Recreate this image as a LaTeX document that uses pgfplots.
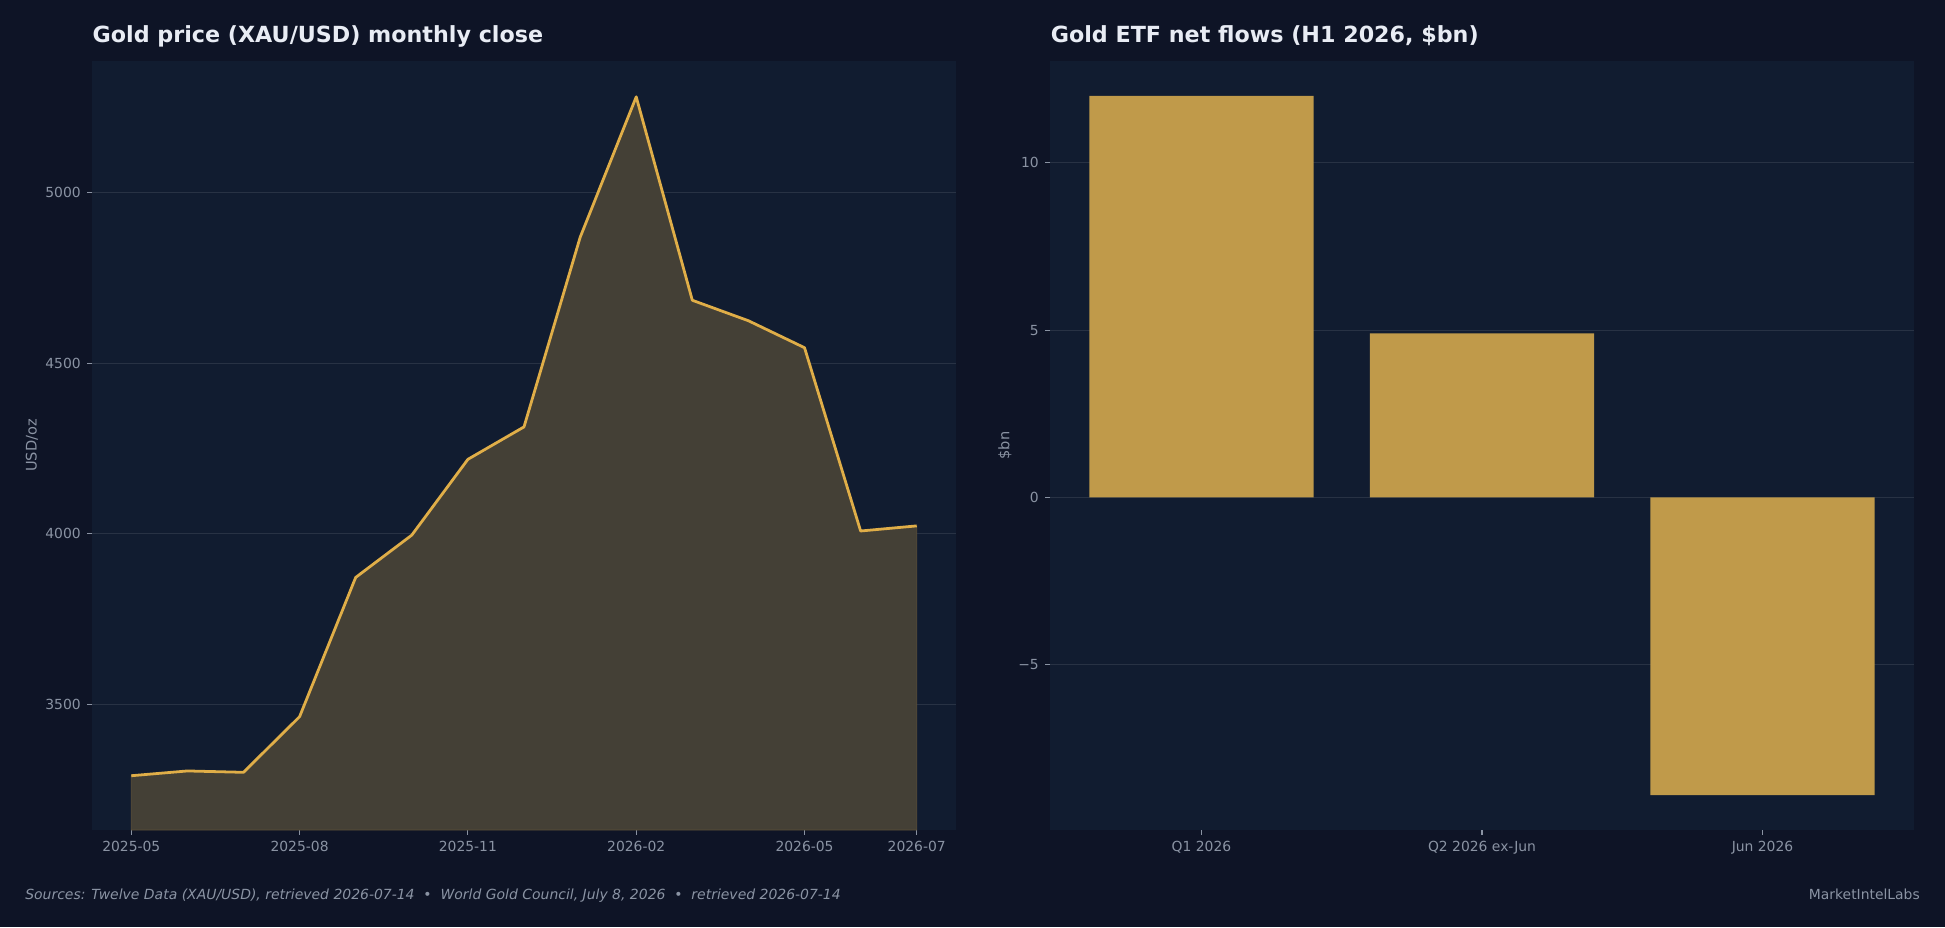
\documentclass[border=0pt]{standalone}
\usepackage{fontspec}
\setmainfont{DejaVu Sans}
\usepackage{pgfplots}
\pgfplotsset{compat=1.18}
\definecolor{figbg}{RGB}{14,20,38}
\definecolor{axbg}{RGB}{17,28,48}
\definecolor{gridc}{RGB}{40,50,68}
\definecolor{tickc}{RGB}{138,147,163}
\definecolor{titlec}{RGB}{232,236,244}
\definecolor{gold}{RGB}{224,174,72}
\definecolor{goldfill}{RGB}{68,64,54}
\definecolor{goldedge}{RGB}{92,80,56}
\definecolor{barc}{RGB}{192,154,74}
\pgfplotsset{
  mystyle/.style={
    scale only axis, anchor=south west,
    width=622.08pt, height=553.68pt,
    axis background/.style={fill=axbg},
    axis line style={draw=none},
    ymajorgrids, grid style={gridc, line width=0.8pt},
    tick align=outside, major tick length=3.5pt,
    tick style={tickc, line width=0.8pt},
    xtick pos=lower, ytick pos=left,
    ticklabel style={font=\fontsize{10}{12}\selectfont, text=tickc, inner sep=0pt},
    xticklabel style={anchor=north, yshift=-4.2pt},
    yticklabel style={anchor=east, xshift=-4.4pt},
  }
}
\begin{document}
\begin{tikzpicture}
\fill[figbg] (0,0) rectangle (1400.4pt,667.44pt);
% left panel
\begin{axis}[mystyle,
  at={(66.24pt,69.84pt)},
  xmin=-0.7, xmax=14.7, ymin=3132, ymax=5385,
  xtick={0,3,6,9,12,14},
  xticklabels={2025-05,2025-08,2025-11,2026-02,2026-05,2026-07},
  ytick={3500,4000,4500,5000},
  yticklabels={3500,4000,4500,5000},
]
\addplot[fill=goldfill, draw=goldedge, line width=0.6pt] coordinates {
 (0,3291) (1,3305) (2,3301) (3,3464) (4,3872) (5,3996) (6,4218) (7,4313)
 (8,4868) (9,5280) (10,4684) (11,4624) (12,4545) (13,4008) (14,4023)
 (14,3132) (0,3132)} -- cycle;
\addplot[gold, line width=2pt, line join=round] coordinates {
 (0,3291) (1,3305) (2,3301) (3,3464) (4,3872) (5,3996) (6,4218) (7,4313)
 (8,4868) (9,5280) (10,4684) (11,4624) (12,4545) (13,4008) (14,4023)};
\end{axis}
% right panel
\begin{axis}[mystyle,
  at={(756pt,69.84pt)},
  xmin=-0.54, xmax=2.54, ymin=-9.945, ymax=13.045,
  xtick={0,1,2},
  xticklabels={Q1 2026,Q2 2026 ex-Jun,Jun 2026},
  ytick={-5,0,5,10},
  yticklabels={−5,0,5,10},
]
\addplot[ybar, bar width=0.8, bar shift=0pt, fill=barc, draw=none] coordinates {(0,12.0) (1,4.9) (2,-8.9)};
\end{axis}
% titles
\node[anchor=base west, font=\bfseries\fontsize{16}{19}\selectfont, text=titlec, inner sep=0pt] at (66.5pt,637pt) {Gold price (XAU/USD) monthly close};
\node[anchor=base west, font=\bfseries\fontsize{16}{19}\selectfont, text=titlec, inner sep=0pt] at (756.4pt,637pt) {Gold ETF net flows (H1 2026, \$bn)};
% axis labels
\node[rotate=90, font=\fontsize{10.5}{12}\selectfont, text=tickc] at (23.04pt,346.7pt) {USD/oz};
\node[rotate=90, font=\fontsize{10.5}{12}\selectfont, text=tickc] at (723.6pt,346.7pt) {\$bn};
% footer
\node[anchor=base west, font=\itshape\fontsize{10.05}{12}\selectfont, text=tickc, inner sep=0pt] at (18pt,20.16pt) {Sources: Twelve Data (XAU/USD), retrieved 2026-07-14\ \ •\ \ World Gold Council, July 8, 2026\ \ •\ \ retrieved 2026-07-14};
\node[anchor=base east, font=\fontsize{10}{12}\selectfont, text=tickc, inner sep=0pt] at (1382.4pt,20.16pt) {MarketIntelLabs};
\end{tikzpicture}
\end{document}
